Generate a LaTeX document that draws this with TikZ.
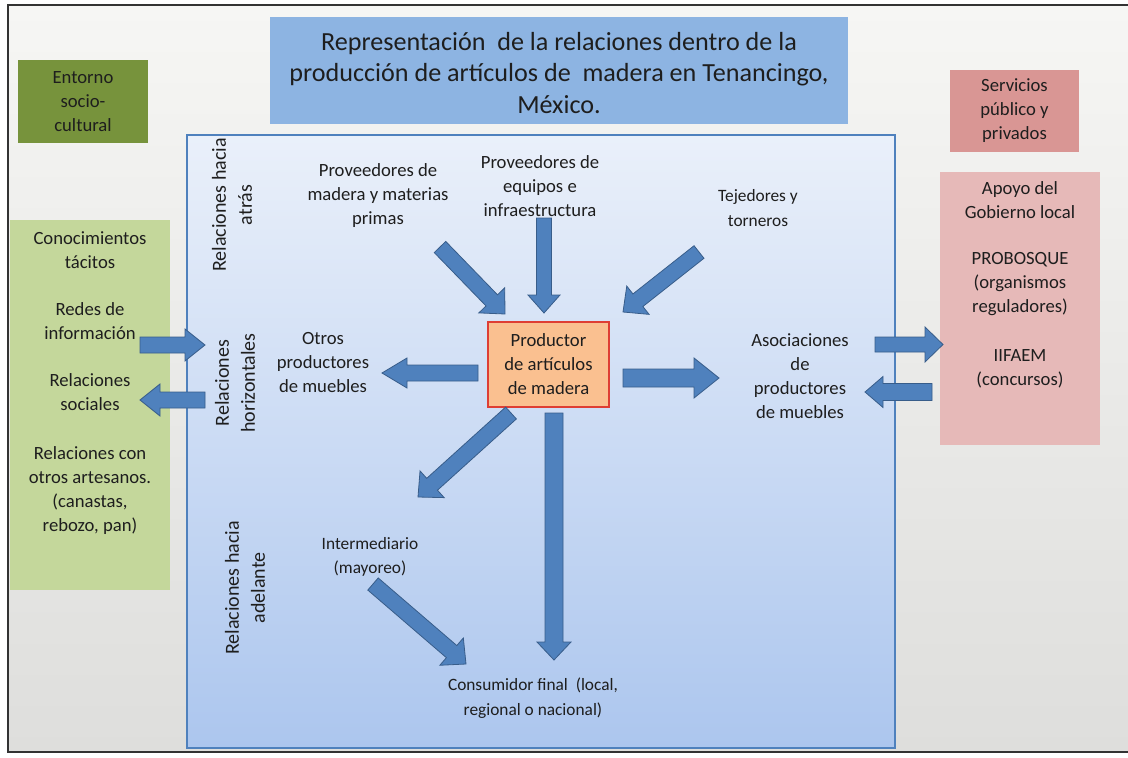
\documentclass[tikz,border=0pt]{standalone}
\usepackage{fontspec}
\setmainfont{Carlito}
\usetikzlibrary{calc}
\definecolor{bgtop}{RGB}{246,246,244}
\definecolor{bgbot}{RGB}{222,222,220}
\definecolor{titleblue}{RGB}{141,180,226}
\definecolor{envgreen}{RGB}{119,147,60}
\definecolor{srvpink}{RGB}{217,150,148}
\definecolor{lgreen}{RGB}{196,215,155}
\definecolor{lpink}{RGB}{230,185,184}
\definecolor{maintop}{RGB}{234,240,250}
\definecolor{mainbot}{RGB}{172,198,238}
\definecolor{mainline}{RGB}{79,129,189}
\definecolor{prodfill}{RGB}{250,192,144}
\definecolor{prodline}{RGB}{222,62,52}
\definecolor{arrfill}{RGB}{79,129,189}
\definecolor{arrline}{RGB}{56,93,138}
\definecolor{txt}{RGB}{30,30,30}
\newcommand\blockarr[5]{% from, to, shaft half, head half, head length (px)
  \coordinate (ba-h) at ($(#2)!#5*0.75pt!(#1)$);
  \filldraw[fill=arrfill, draw=arrline, line width=0.6pt, line join=miter]
    ($(#1)!#3*0.75pt!90:(#2)$) -- ($(ba-h)!#3*0.75pt!90:(#2)$)
    -- ($(ba-h)!#4*0.75pt!90:(#2)$) -- (#2)
    -- ($(ba-h)!#4*0.75pt!-90:(#2)$) -- ($(ba-h)!#3*0.75pt!-90:(#2)$)
    -- ($(#1)!#3*0.75pt!-90:(#2)$) -- cycle;}
\begin{document}
\begin{tikzpicture}[x=0.75pt,y=-0.75pt,
  lbl/.style={align=center, text=txt, inner sep=0pt, font=\fontsize{14}{18}\selectfont},
  slbl/.style={lbl, font=\fontsize{13}{18.5}\selectfont},
  rlbl/.style={lbl, rotate=90, font=\fontsize{15}{19.5}\selectfont},
  box/.style={inner sep=0pt, outer sep=0pt, draw=none}]
\useasboundingbox (0,0) rectangle (1128,757);
\shade[top color=bgtop, bottom color=bgbot] (8,5) rectangle (1128,752);
\draw[line width=1.2pt, black!80] (1128,5) -- (8,5) -- (8,752) -- (1128,752);

% boxes
\node[box, fill=titleblue, minimum width=578*0.75pt, minimum height=107*0.75pt] (titlebox) at (559,70.5) {};
\node[box, fill=envgreen, minimum width=130*0.75pt, minimum height=83*0.75pt] (env) at (83,101.5) {};
\node[box, fill=srvpink, minimum width=129*0.75pt, minimum height=82*0.75pt] (srv) at (1014.5,111) {};
\node[box, fill=lgreen, minimum width=160*0.75pt, minimum height=370*0.75pt] (leftbox) at (90,405) {};
\node[box, fill=lpink, minimum width=160*0.75pt, minimum height=273*0.75pt] (rightbox) at (1020,308.5) {};
\shade[top color=maintop, bottom color=mainbot] (187,135) rectangle (895,748);
\draw[mainline, line width=1.1pt] (187,135) rectangle (895,748);
\node[box, fill=prodfill, draw=prodline, line width=1.5pt, minimum width=121*0.75pt, minimum height=85*0.75pt] (prod) at (548.5,364.5) {};

% texts
\node[lbl, font=\fontsize{19.6}{23.5}\selectfont] (title) at (559,73) {Representación \ de la relaciones dentro de la\\producción de artículos de \ madera en Tenancingo,\\México.};
\node[lbl] (envt) at (83,101.5) {Entorno\\socio-\\cultural};
\node[lbl] (srvt) at (1014.5,111) {Servicios\\público y\\privados};
\node[lbl] (prodt) at (548.5,364) {Productor\\de artículos\\de madera};

\node[lbl] (cono) at (90,250) {Conocimientos\\tácitos};
\node[lbl] (redes) at (90,321) {Redes de\\información};
\node[lbl] (soc) at (90,392) {Relaciones\\sociales};
\node[lbl] (art) at (90,491) {Relaciones con\\otros artesanos.\\(canastas,\\rebozo, pan)};

\node[lbl] (apoyo) at (1020,200) {Apoyo del\\Gobierno local};
\node[lbl] (probo) at (1020,284) {PROBOSQUE\\(organismos\\reguladores)};
\node[lbl] (iifaem) at (1020,369) {IIFAEM\\(concursos)};

\node[lbl] (provm) at (378,196) {Proveedores de\\madera y materias\\primas};
\node[lbl] (prove) at (540,186) {Proveedores de\\equipos e\\infraestructura};
\node[slbl] (tej) at (758,208) {Tejedores y\\torneros};
\node[lbl] (otros) at (323,363) {Otros\\productores\\de muebles};
\node[lbl] (asoc) at (800,376) {Asociaciones\\de\\productores\\de muebles};
\node[slbl] (inter) at (370,557) {Intermediario\\(mayoreo)};
\node[slbl] (cons) at (533,698) {Consumidor final \ (local,\\regional o nacional)};

\node[rlbl] (ratras) at (232,205) {Relaciones hacia\\atrás};
\node[rlbl] (rhoriz) at (235,383) {Relaciones\\horizontales};
\node[rlbl] (radel) at (245,588) {Relaciones hacia\\adelante};

% arrow end points
\coordinate (a1s) at (440,247); \coordinate (a1e) at (505,314);
\coordinate (a2s) at (544,218); \coordinate (a2e) at (544,313);
\coordinate (a3s) at (699,252); \coordinate (a3e) at (623,312);
\coordinate (a4s) at (478,373); \coordinate (a4e) at (382,373);
\coordinate (a5s) at (623,378); \coordinate (a5e) at (719,378);
\coordinate (a6s) at (511,413); \coordinate (a6e) at (418,497);
\coordinate (a7s) at (554,413); \coordinate (a7e) at (554,660);
\coordinate (a8s) at (373,584); \coordinate (a8e) at (466,664);
\coordinate (a9s) at (140,345); \coordinate (a9e) at (205,345);
\coordinate (a10s) at (205,400); \coordinate (a10e) at (140,400);
\coordinate (a11s) at (875,344.5); \coordinate (a11e) at (943,344.5);
\coordinate (a12s) at (932,392); \coordinate (a12e) at (865,392);

\blockarr{a1s}{a1e}{8}{18}{19}
\blockarr{a2s}{a2e}{7.5}{16}{18}
\blockarr{a3s}{a3e}{8}{18}{19}
\blockarr{a4s}{a4e}{8}{15}{25}
\blockarr{a5s}{a5e}{9}{20}{25}
\blockarr{a6s}{a6e}{8}{18}{19}
\blockarr{a7s}{a7e}{9}{17}{18}
\blockarr{a8s}{a8e}{8}{18}{19}
\blockarr{a9s}{a9e}{8}{16}{20}
\blockarr{a10s}{a10e}{8}{16}{20}
\blockarr{a11s}{a11e}{7.5}{17.5}{18}
\blockarr{a12s}{a12e}{8.5}{15.5}{18}
\end{tikzpicture}
\end{document}
